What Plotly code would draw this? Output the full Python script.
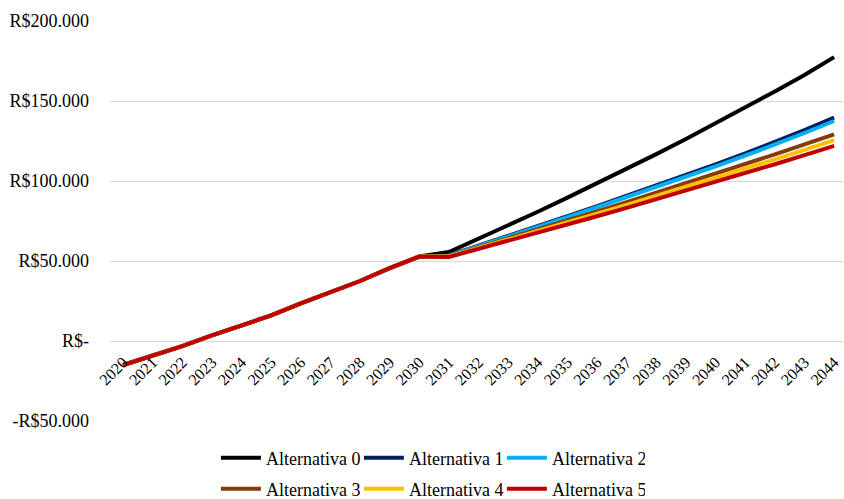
import plotly.graph_objects as go

years = [str(y) for y in range(2020, 2045)]

common = [-15000, -9000, -3200, 3500, 10000, 16000, 23500, 30500, 37500, 45500, 52800]

alt0_tail = [55600, 63800, 72200, 80800, 89600, 98500, 107500, 116800, 126300, 136000, 146000, 156000, 166200, 177400]
alt1_tail = [53500, 59500, 65500, 71800, 78000, 84300, 90700, 97200, 103800, 110400, 117200, 124400, 131800, 139600]
alt2_tail = [53300, 59200, 65100, 71300, 77400, 83600, 89900, 96200, 102700, 109200, 115800, 122800, 130000, 137500]
alt3_tail = [53000, 58500, 64050, 69650, 75300, 81000, 86750, 92600, 98500, 104450, 110500, 116650, 122900, 129200]
alt4_tail = [52800, 58050, 63340, 68680, 74070, 79510, 85000, 90580, 96210, 101890, 107660, 113530, 119490, 125500]
alt5_tail = [52500, 57510, 62560, 67660, 72810, 78000, 83240, 88570, 93950, 99370, 104880, 110480, 116170, 121900]

names = ["Alternativa 0", "Alternativa 1", "Alternativa 2",
         "Alternativa 3", "Alternativa 4", "Alternativa 5"]
tails = [alt0_tail, alt1_tail, alt2_tail, alt3_tail, alt4_tail, alt5_tail]
colors = ["#000000", "#002060", "#00B0F0", "#843C0C", "#FFC000", "#C00000"]
legends = ["legend", "legend", "legend", "legend2", "legend2", "legend2"]

ytick_vals = [-50000, 0, 50000, 100000, 150000, 200000]
ytick_text = ["-R$50.000", "R$-", "R$50.000", "R$100.000", "R$150.000", "R$200.000"]

FONT = "Liberation Serif"

fig = go.Figure()
for name, tail, color, lg in zip(names, tails, colors, legends):
    fig.add_trace(go.Scatter(
        x=years, y=common + tail, mode="lines", name=name,
        line=dict(color=color, width=4), legend=lg,
    ))

legend_common = dict(
    orientation="h", xanchor="left", yanchor="middle",
    font=dict(family=FONT, size=18, color="#000000"),
    bgcolor="rgba(0,0,0,0)", itemwidth=40, tracegroupgap=0,
    entrywidth=88, entrywidthmode="pixels",
    itemclick=False,
)

fig.update_layout(
    width=844, height=499,
    margin=dict(l=110, r=1, t=21, b=78, autoexpand=False),
    paper_bgcolor="white", plot_bgcolor="white",
    font=dict(family=FONT, size=16, color="#000000"),
    showlegend=True,
    legend=dict(x=0.1445, y=-0.0925, **legend_common),
    legend2=dict(x=0.1445, y=-0.17, **legend_common),
    xaxis=dict(
        type="category", range=[-0.44, 24.3],
        anchor="free", position=0.2,
        showgrid=False, zeroline=False, showline=False,
        tickangle=-45, tickfont=dict(family=FONT, size=16, color="#000000"),
        ticks="", ticklabelstandoff=8,
    ),
    yaxis=dict(
        range=[-50000, 200000],
        tickvals=ytick_vals, ticktext=ytick_text,
        showgrid=True, gridcolor="#D9D9D9", gridwidth=1,
        zeroline=False, showline=False, ticks="",
        tickfont=dict(family=FONT, size=18, color="#000000"),
        ticklabelstandoff=20,
    ),
)

fig.write_html("out.html")
